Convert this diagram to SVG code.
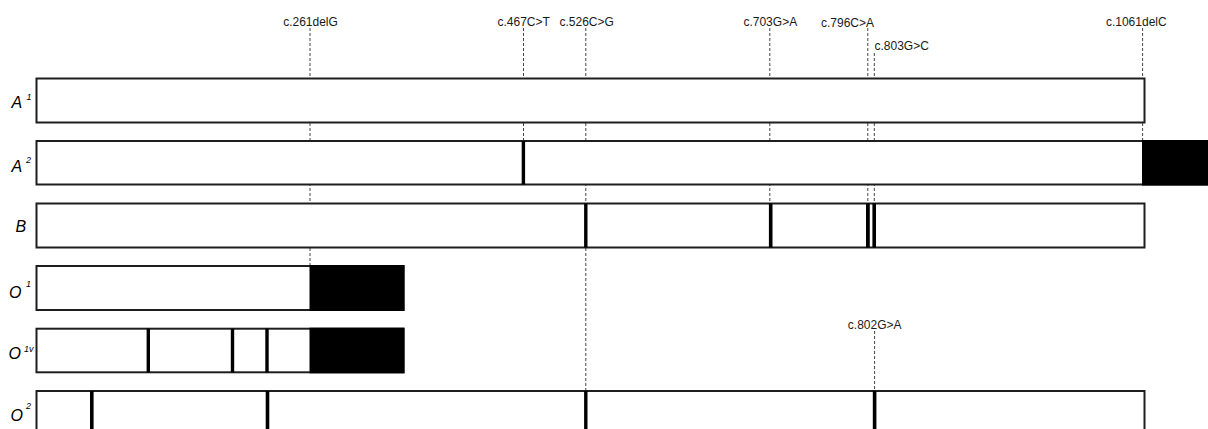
<svg xmlns="http://www.w3.org/2000/svg" width="1208" height="429" viewBox="0 0 1208 429">
<style>
.bg{fill:#fff}
.box{fill:#fff;stroke:#1e1e1e;stroke-width:2}
.blk{fill:#000}
.mk{fill:#000}
.dash{stroke:#444;stroke-width:1;stroke-dasharray:3,2;fill:none}
.lbl{font-family:"Liberation Sans",Arial,sans-serif;font-size:12px;fill:#1a1a1a}
.nm{font-family:"Liberation Sans",Arial,sans-serif;font-size:16px;font-style:italic;fill:#000}
.sup{font-family:"Liberation Sans",Arial,sans-serif;font-size:9px;font-style:italic;fill:#000}
</style>
<rect class="bg" x="0" y="0" width="1208" height="429"/>
<g id="connectors">
  <line class="dash" x1="310" y1="28" x2="310" y2="266"/>
  <line class="dash" x1="523.5" y1="28" x2="523.5" y2="141"/>
  <line class="dash" x1="585.8" y1="28" x2="585.8" y2="391"/>
  <line class="dash" x1="769.8" y1="28" x2="769.8" y2="204"/>
  <line class="dash" x1="867.8" y1="28" x2="867.8" y2="204"/>
  <line class="dash" x1="874.3" y1="53" x2="874.3" y2="204"/>
  <line class="dash" x1="1142.6" y1="28" x2="1142.6" y2="141"/>
  <line class="dash" x1="874.6" y1="331" x2="874.6" y2="391"/>
</g>
<g id="mutation-labels">
  <text class="lbl" x="310.5" y="26" text-anchor="middle">c.261delG</text>
  <text class="lbl" x="523.7" y="26" text-anchor="middle">c.467C&gt;T</text>
  <text class="lbl" x="586.7" y="26" text-anchor="middle">c.526C&gt;G</text>
  <text class="lbl" x="770.3" y="26" text-anchor="middle">c.703G&gt;A</text>
  <text class="lbl" x="874" y="27" text-anchor="end">c.796C&gt;A</text>
  <text class="lbl" x="874.5" y="50">c.803G&gt;C</text>
  <text class="lbl" x="1136.3" y="26" text-anchor="middle">c.1061delC</text>
  <text class="lbl" x="874.7" y="328.5" text-anchor="middle">c.802G&gt;A</text>
</g>
<g id="A1">
  <rect class="box" x="36.5" y="78.5" width="1108" height="44"/>
  <text class="nm" x="11.5" y="108">A</text><text class="sup" x="26.5" y="100">1</text>
</g>
<g id="A2">
  <rect class="box" x="36.5" y="141" width="1180" height="43.5"/>
  <rect class="blk" x="1142" y="140" width="70" height="45.5"/>
  <rect class="mk" x="521.7" y="141" width="3.4" height="43.5"/>
  <text class="nm" x="11.5" y="171.5">A</text><text class="sup" x="26" y="163.3">2</text>
</g>
<g id="B">
  <rect class="box" x="36.5" y="203.5" width="1108" height="44"/>
  <rect class="mk" x="584.1" y="203.5" width="3.4" height="44"/>
  <rect class="mk" x="768.9" y="203.5" width="3.6" height="44"/>
  <rect class="mk" x="866" y="203.5" width="3.8" height="44"/>
  <rect class="mk" x="872.4" y="203.5" width="3.6" height="44"/>
  <text class="nm" x="15.5" y="231.5">B</text>
</g>
<g id="O1">
  <rect class="box" x="36.5" y="266" width="367" height="44"/>
  <rect class="blk" x="309.5" y="265" width="95" height="46"/>
  <text class="nm" x="9" y="298">O</text><text class="sup" x="26" y="286.5">1</text>
</g>
<g id="O1v">
  <rect class="box" x="36.5" y="328.7" width="367" height="43.6"/>
  <rect class="blk" x="309.5" y="327.7" width="95" height="45.6"/>
  <rect class="mk" x="146.6" y="328.7" width="3.4" height="43.6"/>
  <rect class="mk" x="230.8" y="328.7" width="3.4" height="43.6"/>
  <rect class="mk" x="265.3" y="328.7" width="3.4" height="43.6"/>
  <text class="nm" x="8.5" y="359">O</text><text class="sup" x="24" y="351.5">1v</text>
</g>
<g id="O2">
  <rect class="box" x="36.5" y="391" width="1108" height="44"/>
  <rect class="mk" x="90" y="391" width="3.6" height="44"/>
  <rect class="mk" x="265.7" y="391" width="3.6" height="44"/>
  <rect class="mk" x="584.1" y="391" width="3.4" height="44"/>
  <rect class="mk" x="872.8" y="391" width="3.6" height="44"/>
  <text class="nm" x="10.5" y="420.5">O</text><text class="sup" x="26" y="409.3">2</text>
</g>
</svg>
